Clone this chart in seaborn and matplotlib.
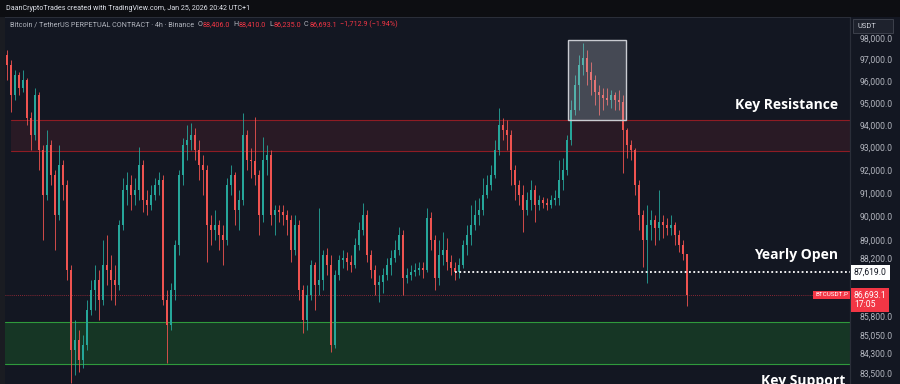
import numpy as np
import pandas as pd
import matplotlib
matplotlib.use("Agg")
import matplotlib.pyplot as plt
import seaborn as sns
from matplotlib.patches import Rectangle
from matplotlib.transforms import blended_transform_factory
from matplotlib.ticker import FixedLocator, FuncFormatter, NullLocator

# ---------------- data (BTCUSDT.P, 4h candles) ----------------
first_open = 97210
closes = [96750, 95370, 96280, 95690, 96050, 94330, 93560, 95370, 92900, 90920,
          93120, 91790, 90060, 92230, 91360, 87720, 84440, 84840, 84030, 84640,
          86060, 86890, 87300, 86480, 87930, 87720, 87300, 87100, 89630, 91140,
          91360, 90920, 91140, 92230, 90700, 90490, 90920, 91360, 91580, 86480,
          85450, 86890, 88780, 91790, 93120, 93340, 93560, 92900, 92230, 92010,
          89630, 89410, 89630, 89200, 88990, 91360, 91790, 90270, 90700, 93560,
          92450, 92400, 91790, 90060, 92450, 92670, 90060, 90270, 90190, 90060,
          89840, 88570, 89630, 86890, 85650, 86680, 87930, 87100, 87300, 88350,
          87930, 84640, 87510, 88140, 88230, 88060, 87930, 88780, 89410, 90060,
          88350, 87720, 87100, 87220, 87510, 87930, 88230, 88570, 89200, 87390,
          87510, 87640, 87720, 87810, 87720, 89930, 88990, 87390, 88350, 88570,
          88060, 87810, 87640, 87930, 88780, 89200, 89630, 90060, 90270, 90920,
          91360, 91790, 92900, 94010, 93790, 93560, 92010, 91360, 90920, 90270,
          90700, 91140, 90490, 90700, 90580, 90490, 90700, 90790, 91580, 92010,
          93340, 94690, 95830, 96750, 97070, 96420, 96050, 95510, 95370, 95230,
          95140, 95370, 95140, 95050, 93790, 93120, 92900, 91360, 90060, 88990,
          89630, 89840, 89500, 89760, 89630, 89500, 89630, 89200, 88780, 88406,
          86693.1]
highs = [97440, 96980, 96510, 96420, 96510, 96150, 94600, 95690, 95510, 93120,
         93790, 93340, 92010, 93120, 92450, 91580, 87930, 85650, 85250, 85040,
         86480, 87300, 87930, 87720, 88990, 89200, 88350, 87930, 89840, 91660,
         91930, 91790, 91660, 93030, 92450, 91140, 91360, 91660, 91930, 91790,
         86890, 87180, 88990, 92010, 93430, 94010, 94100, 93880, 93340, 92670,
         92230, 90060, 90270, 89840, 89630, 91660, 92230, 91930, 91140, 94550,
         93790, 92990, 94370, 92010, 93470, 93120, 92900, 90490, 90490, 90490,
         90270, 90060, 90060, 89840, 87100, 87100, 88140, 88060, 90360, 88570,
         88650, 88350, 87720, 88350, 88570, 88480, 88350, 89070, 89760, 90580,
         90270, 88570, 87930, 87510, 87810, 88230, 88570, 88990, 89540, 89410,
         87810, 87930, 88020, 88060, 88060, 90360, 90190, 89200, 88990, 89330,
         89070, 88350, 88060, 88230, 88990, 89630, 90490, 90700, 90790, 91660,
         91790, 92230, 93340, 94780, 94330, 94240, 93790, 92230, 91580, 91360,
         91050, 91580, 91360, 90920, 90830, 90790, 90920, 91140, 92450, 92540,
         93560, 95140, 96280, 97210, 97770, 97440, 96880, 96280, 95830, 95690,
         95690, 95600, 95510, 95600, 95370, 93880, 93340, 92990, 91580, 90270,
         90490, 90270, 90060, 91140, 90060, 89930, 90060, 89760, 89410, 88990,
         88410]
lows = [96050, 94600, 95140, 95370, 95510, 94010, 92900, 93340, 92010, 88990,
        90700, 91360, 88570, 89840, 90700, 87300, 83110, 83430, 83550, 83710,
        84440, 85860, 86060, 85650, 86270, 87100, 86480, 86270, 86890, 89410,
        90490, 90270, 90490, 90700, 90190, 90060, 90270, 90700, 90920, 86270,
        83910, 85250, 86480, 88350, 91360, 92450, 92900, 92450, 91580, 90920,
        88060, 88780, 88990, 88570, 87930, 88780, 90920, 89630, 89410, 90490,
        92010, 91660, 91360, 89200, 89760, 91790, 89630, 89200, 89760, 89630,
        89200, 88060, 88350, 86480, 85120, 85250, 86480, 86060, 86680, 86890,
        87510, 84360, 84520, 87300, 87810, 87720, 87640, 87810, 88570, 89200,
        88060, 87390, 86680, 86390, 86760, 87300, 87510, 88060, 88350, 86680,
        87180, 87300, 87470, 87510, 87390, 87640, 88570, 86890, 87100, 87930,
        87720, 87510, 87300, 87390, 87810, 88350, 88780, 89410, 89630, 90060,
        90790, 91140, 91660, 92670, 93340, 92900, 91360, 90700, 90490, 89330,
        90060, 90270, 89760, 90270, 90360, 90270, 90360, 90490, 90490, 91140,
        91790, 93120, 94460, 94690, 96280, 95830, 95370, 94910, 94460, 94690,
        94910, 94780, 94690, 94690, 91880, 92540, 92450, 90920, 89410, 87850,
        87180, 88990, 88780, 88990, 89070, 89200, 89200, 88780, 88480, 88140,
        86235]

yearly_open = 87619.0
last_price = 86693.1
resistance_zone = (92850, 94240)
support_zone = (83870, 85570)
highlight_low, highlight_high = 94240, 97910
highlight_start, highlight_end = 140.25, 154.75
yearly_open_start = 112
y_ticks = [98000, 97000, 96000, 95000, 94000, 93000, 92000, 91000, 90000,
           89000, 88200, 85800, 85050, 84300, 83500]

# ---------------- styling ----------------
BG = "#131722"
UP = "#26a69a"
DOWN = "#ef5350"
TXT = "#b2b5be"
RED = "#f23645"

sns.set_theme(style="dark", rc={"axes.facecolor": BG, "figure.facecolor": BG})
plt.rcParams["font.family"] = ["Roboto", "DejaVu Sans"]

df = pd.DataFrame({"close": closes, "high": highs, "low": lows})
df["open"] = [first_open] + closes[:-1]
df["idx"] = np.arange(len(df))
df["up"] = df["close"] >= df["open"]

W, H = 900, 384
fig = plt.figure(figsize=(9, 3.84), dpi=100)
ax = fig.add_axes([5 / W, 0, 845 / W, 367 / H])
ax.set_facecolor(BG)

# zones
ax.axhspan(*resistance_zone, xmin=(11 - 5) / 845, xmax=1, facecolor=RED,
           alpha=0.10, zorder=1, lw=0)
for v in resistance_zone:
    ax.axhline(v, xmin=(11 - 5) / 845, xmax=1, color="#8e1c24", lw=0.8, zorder=1)
ax.axhspan(*support_zone, facecolor="#1f7a2e", alpha=0.32, zorder=1, lw=0)
for v in support_zone:
    ax.axhline(v, color="#2f9a3c", lw=0.8, zorder=1)

# current price line
ax.axhline(last_price, color=RED, lw=0.6, ls=(0, (1, 1.5)), alpha=0.7, zorder=1.5)

# candles
colors = np.where(df["up"], UP, DOWN)
ax.vlines(df["idx"], df["low"], df["high"], colors=colors, lw=0.6, zorder=3)
bottoms = np.minimum(df["open"], df["close"])
heights = np.maximum(np.abs(df["close"] - df["open"]), 20)
ax.bar(df["idx"], heights, bottom=bottoms, width=0.62, color=colors, lw=0, zorder=3)

# yearly open dotted line
sns.lineplot(x=[yearly_open_start, 215], y=[yearly_open, yearly_open], ax=ax,
             color="white", lw=1.3, linestyle=(0, (1, 1.4)), zorder=4)

# highlight box
ax.add_patch(Rectangle((highlight_start, highlight_low), highlight_end - highlight_start,
                       highlight_high - highlight_low, facecolor="#c8ccd6", alpha=0.28,
                       lw=0, zorder=4))
ax.add_patch(Rectangle((highlight_start, highlight_low), highlight_end - highlight_start,
                       highlight_high - highlight_low, facecolor="none",
                       edgecolor="#c9cbd1", lw=1.0, zorder=4))

ax.set_yscale("log")
ax.set_ylim(83074, 98988)
ax.set_xlim(-0.5, 210.75)
ax.yaxis.set_major_locator(FixedLocator(y_ticks))
ax.yaxis.set_minor_locator(NullLocator())
ax.yaxis.set_major_formatter(FuncFormatter(lambda v, p: f"{v:,.1f}"))
ax.yaxis.set_minor_formatter(FuncFormatter(lambda v, p: ""))
ax.yaxis.tick_right()
ax.tick_params(axis="y", length=0, pad=7, labelsize=6.2, labelcolor=TXT)
ax.set_xticks([])
ax.grid(False)
for s in ["top", "left", "bottom"]:
    ax.spines[s].set_visible(False)
ax.spines["right"].set_color("#2a2e39")
ax.spines["right"].set_linewidth(0.9)
ax.set_xlabel("")
ax.set_ylabel("")
leg = ax.get_legend()
if leg:
    leg.remove()

# figure decorations (pixel-based positions)
def fx(px):
    return px / W

def fy(py):
    return 1 - py / H

fig.patches.append(Rectangle((0, fy(17)), 1, 17 / H, transform=fig.transFigure,
                             facecolor="#0d0e12", lw=0, zorder=0))
fig.patches.append(Rectangle((0, 0), fx(5), fy(17), transform=fig.transFigure,
                             facecolor="#1a1c22", lw=0, zorder=0))
fig.patches.append(Rectangle((fx(5), fy(17.5)), fx(845), 0.8 / H, transform=fig.transFigure,
                             facecolor="#2a2e39", lw=0, zorder=0))

fig.text(fx(6), fy(8.5), "DaanCryptoTrades created with TradingView.com, Jan 25, 2026 20:42 UTC+1",
         color="#e0e3eb", fontsize=5.1, va="center", ha="left")

parts = [("Bitcoin / TetherUS PERPETUAL CONTRACT · 4h · Binance", TXT, 0),
         ("O", TXT, 2.4), ("88,406.0", RED, 0.5), ("H", TXT, 2.0), ("88,410.0", RED, 0.5),
         ("L", TXT, 2.0), ("86,235.0", RED, 0.5), ("C", TXT, 2.0), ("86,693.1", RED, 0.5),
         ("−1,712.9 (−1.94%)", RED, 2.2)]
prev = None
for s, c, gap in parts:
    if prev is None:
        prev = fig.text(fx(10), fy(25), s, color=c, fontsize=5.2, va="center", ha="left")
    else:
        prev = ax.annotate(s, xy=(1, 0), xycoords=prev, xytext=(gap, 0),
                           textcoords="offset points", color=c, fontsize=5.2,
                           va="bottom", ha="left", annotation_clip=False)

# right axis top box
fig.patches.append(Rectangle((fx(853), fy(33)), fx(40), 14 / H, transform=fig.transFigure,
                             facecolor="#1e222d", edgecolor="#434651", lw=0.6, zorder=5))
fig.text(fx(857), fy(26), "USDT", color="#d1d4dc", fontsize=5.4, va="center", ha="left",
         zorder=6)

# price tags on axis
bt = blended_transform_factory(fig.transFigure, ax.transData)
fig.text(fx(854), yearly_open, f"{yearly_open:,.1f}", transform=bt, color="#131722",
         fontsize=6.2, va="center", ha="left", zorder=6,
         bbox=dict(boxstyle="square,pad=0.35", fc="white", ec="none"))
fig.text(fx(854), fy(290.5), f"{last_price:,.1f}\n17:05", color="white",
         fontsize=6.2, va="top", ha="left", zorder=6, linespacing=1.1,
         bbox=dict(boxstyle="square,pad=0.3", fc=RED, ec="none"))
fig.text(fx(848), last_price, "BTCUSDT.P", transform=bt, color="white", fontsize=4.6,
         va="center", ha="right", zorder=6,
         bbox=dict(boxstyle="square,pad=0.25", fc=RED, ec="none"))

# annotations
fig.text(fx(838), fy(105), "Key Resistance", color="white", fontsize=10,
         fontweight="bold", family=["Open Sans", "DejaVu Sans"], ha="right", va="center")
fig.text(fx(838), fy(255), "Yearly Open", color="white", fontsize=10,
         fontweight="bold", family=["Open Sans", "DejaVu Sans"], ha="right", va="center")
fig.text(fx(845), fy(381), "Key Support", color="white", fontsize=10,
         fontweight="bold", family=["Open Sans", "DejaVu Sans"], ha="right", va="center")

fig.savefig("out.png", dpi=100, facecolor=BG)
